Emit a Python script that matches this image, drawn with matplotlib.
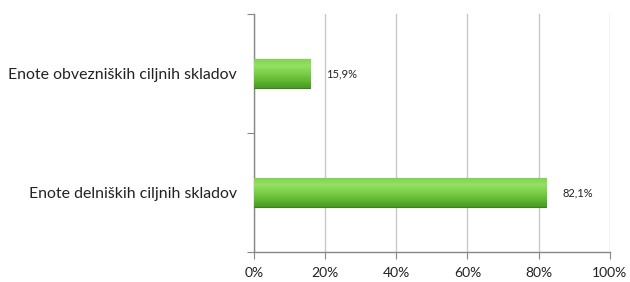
import numpy as np
import matplotlib
matplotlib.use("Agg")
import matplotlib.pyplot as plt
from matplotlib.colors import LinearSegmentedColormap

categories = ["Enote delniških ciljnih skladov", "Enote obvezniških ciljnih skladov"]
values = [82.1, 15.9]
value_labels = ["82,1%", "15,9%"]
xticks = [0, 20, 40, 60, 80, 100]
xtick_labels = ["0%", "20%", "40%", "60%", "80%", "100%"]

plt.rcParams["font.family"] = ["Lato", "DejaVu Sans"]

fig = plt.figure(figsize=(6.3, 2.82), dpi=100)
ax = fig.add_axes([0.403, 0.106, 0.565, 0.844])

ypos = np.arange(len(categories))
bar_h = 0.25

# gradient fill for a bevelled look
grad_cmap = LinearSegmentedColormap.from_list(
    "bev", ["#4a9a24", "#62b932", "#7ccf4a", "#95e064", "#7fd24c"])
grad = np.linspace(0, 1, 64).reshape(-1, 1)

bars = ax.barh(ypos, values, height=bar_h, color="#6cc338",
               edgecolor="#3d7f1c", linewidth=0.8, zorder=3)
for b in bars:
    x0, y0 = b.get_x(), b.get_y()
    w, h = b.get_width(), b.get_height()
    im = ax.imshow(grad, cmap=grad_cmap, aspect="auto",
                   extent=[x0, x0 + w, y0, y0 + h], origin="lower", zorder=3.5)
    im.set_clip_path(b)

for y, v, lbl in zip(ypos, values, value_labels):
    ax.annotate(lbl, xy=(v, y), xytext=(11.5, 0), textcoords="offset points",
                va="center", ha="left", fontsize=8, color="#222222")

ax.set_xlim(0, 100)
ax.set_ylim(-0.5, 1.5)
ax.set_xticks(xticks)
ax.set_xticklabels(xtick_labels, fontsize=10, color="#222222")

# category boundaries get the tick marks, names sit at the centres
ax.set_yticks([-0.5, 0.5, 1.5])
ax.set_yticklabels([])
ax.set_yticks(ypos, minor=True)
ax.set_yticklabels(categories, minor=True, fontsize=11.4, color="#222222")
ax.tick_params(axis="y", which="minor", length=0, pad=12)
ax.tick_params(axis="y", which="major", length=5, color="#888888", direction="out")
ax.tick_params(axis="x", length=5, color="#888888", direction="out", pad=6)

ax.grid(axis="x", color="#c8c8c8", linewidth=1, zorder=0)
ax.set_axisbelow(True)
for s in ["top", "right"]:
    ax.spines[s].set_visible(False)
for s in ["left", "bottom"]:
    ax.spines[s].set_color("#888888")
    ax.spines[s].set_linewidth(1)

fig.savefig("out.png", dpi=100, facecolor="white")
